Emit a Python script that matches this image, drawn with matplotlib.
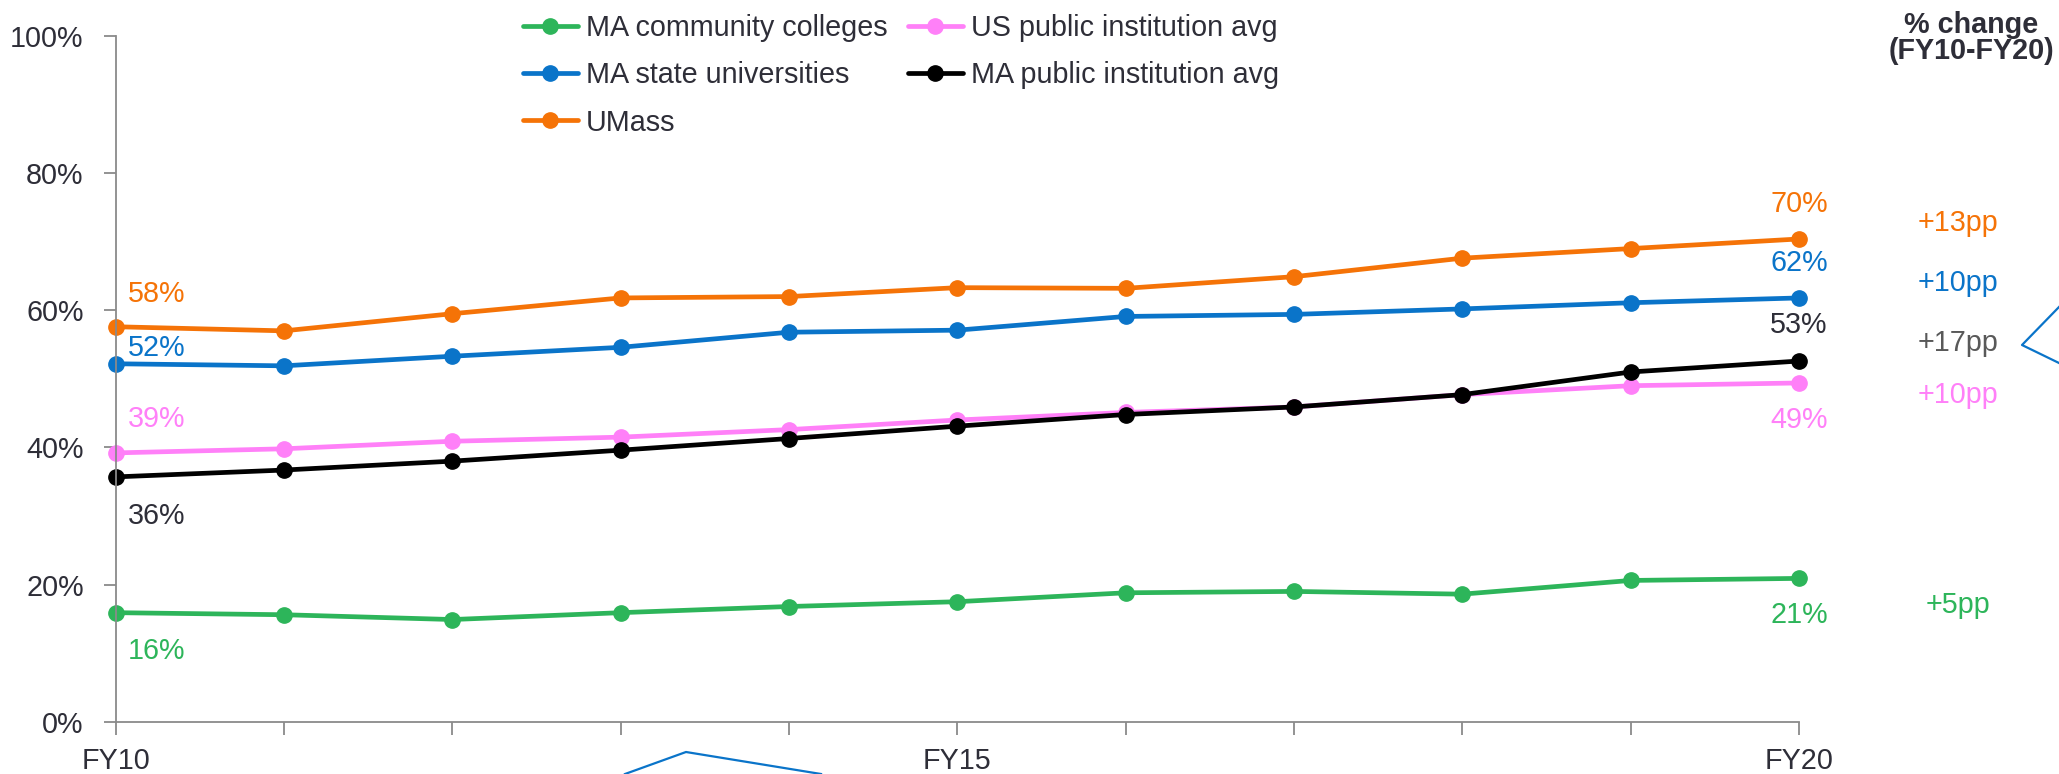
import matplotlib
matplotlib.use("Agg")
import matplotlib.pyplot as plt
from matplotlib.lines import Line2D

plt.rcParams['font.family'] = ['Liberation Sans', 'DejaVu Sans']

# Fiscal years on the x axis
years = ['FY10', 'FY11', 'FY12', 'FY13', 'FY14', 'FY15',
         'FY16', 'FY17', 'FY18', 'FY19', 'FY20']
year_labels = ['FY10', '', '', '', '', 'FY15', '', '', '', '', 'FY20']

# Share of students (percent) per sector
ma_community = [15.9, 15.6, 14.9, 15.9, 16.8, 17.5, 18.8, 19.0, 18.6, 20.6, 20.9]
ma_state_univ = [52.2, 51.9, 53.3, 54.6, 56.8, 57.1, 59.1, 59.4, 60.2, 61.1, 61.8]
umass = [57.6, 57.0, 59.5, 61.8, 62.0, 63.3, 63.2, 64.9, 67.6, 69.0, 70.4]
us_public_avg = [39.2, 39.8, 40.9, 41.5, 42.6, 44.0, 45.1, 45.9, 47.7, 49.0, 49.4]
ma_public_avg = [35.7, 36.7, 38.0, 39.6, 41.3, 43.1, 44.8, 45.9, 47.7, 51.0, 52.6]

series_names = ['MA community colleges', 'MA state universities', 'UMass',
                'US public institution avg', 'MA public institution avg']
series_values = [ma_community, ma_state_univ, umass, us_public_avg, ma_public_avg]

GREEN = '#2DB55A'
BLUE = '#0A74C9'
ORANGE = '#F57307'
PINK = '#FF80F8'
BLACK = '#000000'
colors = [GREEN, BLUE, ORANGE, PINK, BLACK]
TEXT = '#2E2E38'
GRAY_TEXT = '#595959'
AXIS = '#8A8A8A'
FS = 20.7

W, H = 2059, 774
fig = plt.figure(figsize=(W / 100, H / 100), dpi=100)
ax = fig.add_axes([115.6 / W, 1 - 721.7 / H, (1799 - 115.6) / W, (721.7 - 36) / H])

x = list(range(len(years)))
handles = []
for name, vals, col in zip(series_names, series_values, colors):
    h, = ax.plot(x, vals, color=col, lw=3.4, marker='o', markersize=11,
                 clip_on=False, label=name, solid_capstyle='round')
    handles.append(h)

ax.set_xlim(0, 10)
ax.set_ylim(0, 100)
ax.set_xticks(x)
ax.set_xticklabels(year_labels)
ax.set_yticks([0, 20, 40, 60, 80, 100])
ax.set_yticklabels(['0%', '20%', '40%', '60%', '80%', '100%'])
for s in ['top', 'right']:
    ax.spines[s].set_visible(False)
for s in ['left', 'bottom']:
    ax.spines[s].set_color(AXIS)
    ax.spines[s].set_linewidth(1.3)
ax.tick_params(axis='x', length=9, width=1.3, color=AXIS, labelsize=FS,
               labelcolor=TEXT, pad=9)
ax.tick_params(axis='y', length=9, width=1.3, color=AXIS, labelsize=FS,
               labelcolor=TEXT, pad=14)

# Start / end value labels (pixel offsets from the point)
label_colors = [GREEN, BLUE, ORANGE, PINK, TEXT]
start_offsets = [(12, -38), (12, 16), (12, 33), (12, 34), (12, -39)]
end_offsets = [(0, -37), (0, 35), (0, 35), (0, -37), (0, 36)]
for vals, col, so, eo in zip(series_values, label_colors, start_offsets, end_offsets):
    ax.annotate(f"{vals[0]:.0f}%", (0, vals[0]), xytext=so, textcoords='offset pixels',
                ha='left', va='center', fontsize=FS, color=col)
    ax.annotate(f"{vals[-1]:.0f}%", (10, vals[-1]), xytext=eo, textcoords='offset pixels',
                ha='center', va='center', fontsize=FS, color=col, annotation_clip=False)

# Change column on the right
fig.text(1971 / W, 1 - 25 / H, '% change', ha='center', va='center',
         fontsize=FS, fontweight='bold', color=TEXT)
fig.text(1971 / W, 1 - 51 / H, '(FY10-FY20)', ha='center', va='center',
         fontsize=FS, fontweight='bold', color=TEXT)
change_y = [605, 283, 223, 395, 343]
change_colors = [GREEN, BLUE, ORANGE, PINK, GRAY_TEXT]
for vals, yy, col in zip(series_values, change_y, change_colors):
    pp = round(vals[-1] - vals[0])
    fig.text(1958 / W, 1 - yy / H, f"+{pp}pp", ha='center', va='center',
             fontsize=FS, color=col)

# Legend
leg = fig.legend(handles=handles, labels=series_names, ncol=2, loc='upper left',
                 bbox_to_anchor=(523 / W, 1 - 14 / H), frameon=False, fontsize=FS,
                 handlelength=1.9, handletextpad=0.3, columnspacing=0.7,
                 labelspacing=0.67, borderaxespad=0, borderpad=0)
for t in leg.get_texts():
    t.set_color(TEXT)

# Callout connector shapes
def fig_line(xs, ys):
    fig.add_artist(Line2D([v / W for v in xs], [1 - v / H for v in ys],
                          transform=fig.transFigure, color='#0A74C9', lw=1.6))

fig_line([625, 686, 821], [774, 752, 774])
fig_line([2059, 2022, 2059], [307, 345, 363])

fig.savefig('out.png', dpi=100)
